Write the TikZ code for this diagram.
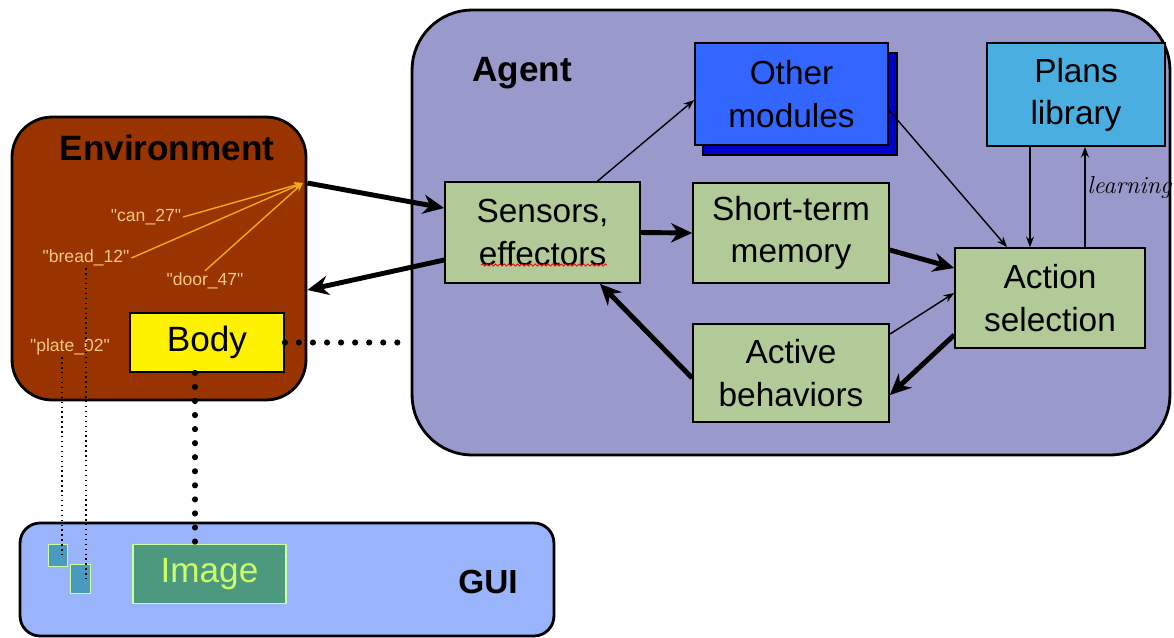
\documentclass[tikz,border=0pt]{standalone}
\usepackage{fontspec}
\setsansfont{Liberation Sans}
\renewcommand{\familydefault}{\sfdefault}
\newfontfamily\itemfont{Liberation Sans}[Ligatures=TeXOff]
\usetikzlibrary{arrows.meta,decorations.pathmorphing}

\definecolor{envbrown}{RGB}{153,51,0}
\definecolor{agentviolet}{RGB}{153,153,204}
\definecolor{guiblue}{RGB}{154,180,252}
\definecolor{modgreen}{RGB}{178,202,152}
\definecolor{otherblue}{RGB}{51,102,255}
\definecolor{shadowblue}{RGB}{0,0,204}
\definecolor{plansblue}{RGB}{74,174,224}
\definecolor{itemorange}{RGB}{250,200,120}
\definecolor{rayorange}{RGB}{240,170,20}
\definecolor{imagegreen}{RGB}{77,153,128}
\definecolor{imageedge}{RGB}{204,255,153}
\definecolor{imagetext}{RGB}{204,255,102}
\definecolor{iconblue}{RGB}{74,154,192}

\tikzset{
  region/.style = {rectangle, draw = black, line width = 1.6pt},
  title/.style = {font = \sffamily\fontsize{20}{24}\selectfont\bfseries},
  modbox/.style = {rectangle,
      draw = black,
      line width = 1pt,
      fill = modgreen,
      align = center,
      inner sep = 0pt,
      font = \sffamily\fontsize{19}{24}\selectfont},
  itemname/.style = {text = itemorange, inner sep = 1pt,
      font = \itemfont\fontsize{10}{12}\selectfont},
  fatarrow/.style = {line width = 2.8pt, -{Stealth[length=12pt,width=11pt]}},
  slimarrow/.style = {line width = 0.8pt, -{Stealth[length=6pt,width=4.5pt]}},
  ray/.style = {draw = rayorange, line width = 0.8pt, -{Stealth[length=5pt,width=4pt]}},
  bigdots/.style = {line width = 3.5pt, line cap = round, dash pattern = on 0pt off 8pt},
  smalldots/.style = {line width = 0.8pt, dotted},
}

\begin{document}
\begin{tikzpicture}[x = 0.02cm, y = -0.02cm, font = \sffamily]
\useasboundingbox (0,0) rectangle (1174,637);

% environment
  \node[region,
      fill = envbrown,
      rounded corners = 0.8cm,
      minimum width = 5.88cm,
      minimum height = 5.66cm] (env) at (159,258.5) {};
  \node[title] (envtitle) at (167,148) {Environment};

% agent
  \node[region,
      fill = agentviolet,
      rounded corners = 1.2cm,
      minimum width = 15.16cm,
      minimum height = 8.9cm] (agent) at (791,232.5) {};
  \node[title] (agenttitle) at (522,73) {Agent};

% gui
  \node[region,
      fill = guiblue,
      rounded corners = 0.4cm,
      minimum width = 10.68cm,
      minimum height = 2.26cm] (gui) at (287,579.5) {};
  \node[title, font = \sffamily\fontsize{19}{24}\selectfont\bfseries] (guititle) at (488,582) {GUI};

% modules of the agent
  \node[rectangle,
      draw = black,
      line width = 1pt,
      fill = shadowblue,
      minimum width = 3.88cm,
      minimum height = 2.04cm] (othershadow) at (800,104) {};
  \node[modbox,
      fill = otherblue,
      minimum width = 3.86cm,
      minimum height = 2.04cm] (other) at (791.5,94) {Other\\modules};
  \node[modbox,
      fill = plansblue,
      minimum width = 3.56cm,
      minimum height = 2.06cm] (plans) at (1076,94.5) {Plans\\library};
  \node[modbox,
      minimum width = 3.9cm,
      minimum height = 2.02cm] (sens) at (542.5,232.5) {Sensors,\\effectors};
  \node[modbox,
      minimum width = 3.92cm,
      minimum height = 2.0cm] (stm) at (791,233) {Short-term\\memory};
  \node[modbox,
      minimum width = 3.92cm,
      minimum height = 1.96cm] (act) at (791,373) {Active\\behaviors};
  \node[modbox,
      minimum width = 3.8cm,
      minimum height = 2.0cm] (sel) at (1050,298) {Action\\selection};

  % spell-check squiggle
  \draw[red, line width = 0.5pt,
      decorate, decoration = {snake, amplitude = 0.6pt, segment length = 2.5pt}]
      (481,265) -- (607,265);

% inside the environment
  \node[rectangle,
      draw = black,
      line width = 1pt,
      fill = yellow,
      minimum width = 3.08cm,
      minimum height = 1.18cm,
      font = \sffamily\fontsize{20}{24}\selectfont] (body) at (207,342.5) {Body};
  \coordinate (hub) at (303,183);
  \node[itemname] (can) at (146,217) {"can\_27"};
  \node[itemname] (bread) at (86,258) {"bread\_12"};
  \node[itemname] (door) at (205,281) {"door\_47"};
  \node[itemname] (plate) at (70,347) {"plate\_02"};
  \draw[ray] (can.east) -- (hub);
  \draw[ray] (bread.east) -- (hub);
  \draw[ray] (door.north) -- (hub);

% inside the gui
  \node[rectangle,
      draw = imageedge,
      line width = 0.6pt,
      fill = imagegreen,
      text = imagetext,
      minimum width = 3.06cm,
      minimum height = 1.18cm,
      font = \sffamily\fontsize{20}{24}\selectfont] (image) at (209.5,574) {Image};
  \node[rectangle,
      draw = imageedge,
      line width = 0.5pt,
      fill = iconblue,
      minimum width = 0.38cm,
      minimum height = 0.44cm] (icona) at (57.5,555) {};
  \node[rectangle,
      draw = imageedge,
      line width = 0.5pt,
      fill = iconblue,
      minimum width = 0.4cm,
      minimum height = 0.58cm] (iconb) at (80,578.5) {};

% links
  \draw[fatarrow] (env.east |- hub) -- ([yshift=0.49cm]sens.west);
  \draw[fatarrow] ([yshift=-0.55cm]sens.west) -- ([yshift=-0.63cm]env.east);
  \draw[slimarrow] ([xshift=1.1cm]sens.north) -- ([yshift=-0.12cm]other.west);
  \draw[fatarrow] (sens.east) -- (stm.west);
  \draw[fatarrow] ([yshift=-0.34cm]stm.east) -- ([yshift=0.6cm]sel.west);
  \draw[slimarrow] ([yshift=-0.32cm]other.east) -- ([xshift=-0.86cm]sel.north);
  \draw[slimarrow] ([xshift=-0.92cm]plans.south) -- ([xshift=-0.92cm]plans.south |- sel.north);
  \draw[slimarrow] ([xshift=0.18cm]plans.south |- sel.north) -- ([xshift=0.18cm]plans.south)
      node[pos = 0.6, right, inner sep = 1pt, font = \rmfamily\itshape\fontsize{14}{16}\selectfont] (learn) {learning};
  \draw[slimarrow] ([yshift=-0.22cm]act.north east) -- ([yshift=0.1cm]sel.west);
  \draw[fatarrow] ([yshift=-0.74cm]sel.west) -- ([yshift=-0.44cm]act.east);
  \draw[fatarrow] ([yshift=-0.1cm]act.west) -- ([xshift=1.15cm]sens.south);

% body and gui links
  \draw[bigdots] (body.east) -- (body.east -| agent.west);
  \draw[bigdots] ([xshift=-0.24cm]body.south) -- ([xshift=-0.24cm]body.south |- image.north);
  \draw[smalldots] ([xshift=-0.16cm]plate.south) -- ([xshift=-0.16cm]plate.south |- icona.center);
  \draw[smalldots] (bread.south) -- (bread.south |- iconb.center);
\end{tikzpicture}
\end{document}
